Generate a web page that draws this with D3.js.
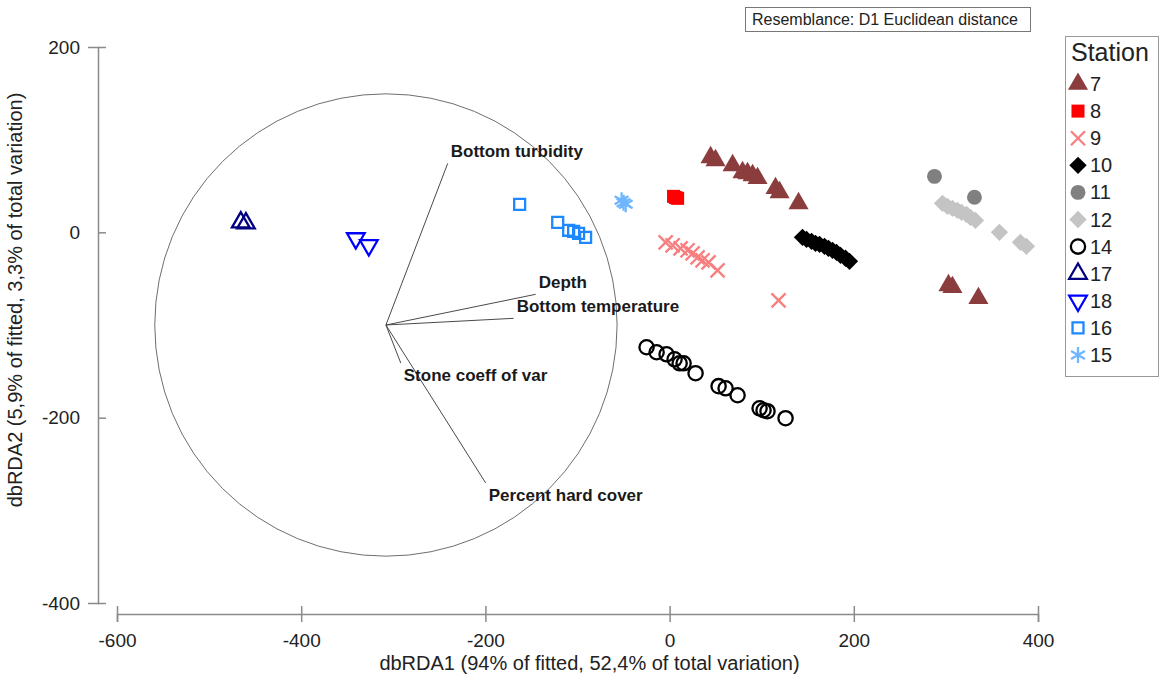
<!DOCTYPE html>
<html>
<head>
<meta charset="utf-8">
<script src="https://cdn.jsdelivr.net/npm/d3@7"></script>
<style>
  body { margin: 0; background: #fff; }
  svg { display: block; font-family: "Liberation Sans", Arial, sans-serif; }
</style>
</head>
<body>
<div id="chart"></div>
<script>
// station codes, in legend order
const stations = ['7', '8', '9', '10', '11', '12', '14', '17', '18', '16', '15'];

// dbRDA1 / dbRDA2 scores per station
const station7 = [[44.5, 80.9], [49.9, 77.7], [68.4, 72.3], [79.2, 64.7], [84.6, 63.6], [90.1, 61.5], [95.5, 58.3],
    [115, 47.5], [119.4, 43.1], [140, 31.3], [302.8, -57.2], [307.1, -59.3], [335.3, -71.2]];
const station8 = [[4.3, 38.8], [8.7, 36.7], [6.5, 37.5]];
const station9 = [[-4.3, -10.8], [3.3, -14], [11.9, -17.3], [19.5, -19.4], [25, -22.7], [30.4, -27], [35.8, -30.2],
    [42.3, -32.4], [52.1, -41], [118.3, -73.4]];
const station10 = [[144.3, -5.4], [148.7, -7.6], [154.1, -9.7], [158.4, -11.9], [162.8, -12.9], [168.2, -15.1],
    [172.5, -17.3], [176.9, -19.4], [181.2, -21.6], [185.6, -24.8], [191, -28], [195.3, -31.3]];
const station11 = [[287.6, 60.4], [331, 37.8]];
const station12 = [[296.3, 31.3], [301.7, 28], [307.1, 25.9], [312.5, 23.7], [316.9, 21.6], [322.3, 19.4],
    [326.6, 16.2], [332.1, 12.9], [358.1, 0], [380.9, -10.8], [387.4, -15.1]];
const station14 = [[-25, -124], [-14.1, -129.4], [-3.3, -131.6], [5.4, -137], [10.9, -141.3], [15.2, -141.3],
    [28.2, -152], [53.2, -166], [60.8, -168.3], [73.8, -175.8], [97.7, -189.9], [102, -192], [106.3, -193], [125.9, -200.6]];
const station17 = [[-465.6, 10.8], [-460, 9.7]];
const station18 = [[-340.7, -6.5], [-326.6, -14]];
const station16 = [[-162.8, 30.2], [-121.5, 10.8], [-109.6, 2.2], [-104.2, 1.1], [-98.8, -1.1], [-91.2, -5.4]];
const station15 = [[-52.1, 34.5], [-47.7, 30.2], [-50, 32]];

// predictor vectors (end points in dbRDA units)
const vecNames = ['Bottom turbidity', 'Depth', 'Bottom temperature', 'Stone coeff of var', 'Percent hard cover'];
const vecX = [-240.9, -145.4, -169.3, -291.9, -199.7];
const vecY = [74.4, -66.9, -92.8, -141, -270.5];
const vecOrigin = [-308, -100];
const vecRadius = 251;

const xTicks = [-600, -400, -200, 0, 200, 400];
const yTicks = [-400, -200, 0, 200];

const points = {
    '7': station7, '8': station8, '9': station9, '10': station10, '11': station11, '12': station12,
    '14': station14, '17': station17, '18': station18, '16': station16, '15': station15
};

// marker look per station
const styles = {
    '7':  {shape: d3.symbolTriangle, size: 175, fill: '#8b3d3d', stroke: 'none', rot: 0},
    '8':  {shape: d3.symbolSquare, size: 170, fill: '#ff0000', stroke: 'none', rot: 0},
    '9':  {shape: d3.symbolX, size: 130, fill: 'none', stroke: '#f77f7f', rot: 0},
    '10': {shape: d3.symbolSquare, size: 150, fill: '#000', stroke: 'none', rot: 45},
    '11': {shape: d3.symbolCircle, size: 175, fill: '#808080', stroke: 'none', rot: 0},
    '12': {shape: d3.symbolSquare, size: 150, fill: '#c4c4c4', stroke: 'none', rot: 45},
    '14': {shape: d3.symbolCircle, size: 160, fill: 'none', stroke: '#000', rot: 0},
    '17': {shape: d3.symbolTriangle, size: 135, fill: 'none', stroke: '#000080', rot: 0},
    '18': {shape: d3.symbolTriangle, size: 135, fill: 'none', stroke: '#0000ff', rot: 180},
    '16': {shape: d3.symbolSquare, size: 120, fill: 'none', stroke: '#1e88ff', rot: 0},
    '15': {shape: d3.symbolAsterisk, size: 180, fill: 'none', stroke: '#6fb6ff', rot: 0}
};

const W = 1161, H = 678;
const svg = d3.select('#chart').append('svg')
    .attr('width', W)
    .attr('height', H);

const x = d3.scaleLinear().domain([-600, 400]).range([117, 1038]);
const y = d3.scaleLinear().domain([-400, 200]).range([603, 47]);

const axisColor = '#8a8a8a';
const plainNum = d => String(d); // hyphen minus, as in the original

// x axis
const xAxis = svg.append('g')
    .attr('transform', 'translate(0,614)')
    .call(d3.axisBottom(x).tickValues(xTicks).tickFormat(plainNum).tickSizeOuter(0).tickSize(8).tickPadding(12));
xAxis.select('.domain').attr('stroke', axisColor).attr('stroke-width', 1.5);
xAxis.selectAll('.tick line').attr('stroke', axisColor).attr('stroke-width', 1.5).attr('y1', -8);
xAxis.selectAll('.tick text').attr('font-size', 19).attr('fill', '#222')
    .attr('font-family', '"Liberation Sans", Arial, sans-serif');

// y axis
const yAxis = svg.append('g')
    .attr('transform', 'translate(98,0)')
    .call(d3.axisLeft(y).tickValues(yTicks).tickFormat(plainNum).tickSizeOuter(0).tickSize(10).tickPadding(8));
yAxis.select('.domain').attr('stroke', axisColor).attr('stroke-width', 1.5);
yAxis.selectAll('.tick line').attr('stroke', axisColor).attr('stroke-width', 1.5).attr('x2', 8);
yAxis.selectAll('.tick text').attr('font-size', 19).attr('fill', '#222')
    .attr('font-family', '"Liberation Sans", Arial, sans-serif');

// axis titles
svg.append('text')
    .attr('x', (x(-600) + x(400)) / 2 + 12)
    .attr('y', 670)
    .attr('text-anchor', 'middle')
    .attr('font-size', 20)
    .attr('fill', '#222')
    .text('dbRDA1 (94% of fitted, 52,4% of total variation)');

svg.append('text')
    .attr('transform', 'translate(22,' + 300 + ') rotate(-90)')
    .attr('text-anchor', 'middle')
    .attr('font-size', 20)
    .attr('fill', '#222')
    .text('dbRDA2 (5,9% of fitted, 3,3% of total variation)');

// correlation circle
const ox = x(vecOrigin[0]), oy = y(vecOrigin[1]);
svg.append('circle')
    .attr('cx', ox)
    .attr('cy', oy)
    .attr('r', x(vecOrigin[0] + vecRadius) - ox)
    .attr('fill', 'none')
    .attr('stroke', '#6e6e6e')
    .attr('stroke-width', 1);

// vectors
const vecs = vecNames.map((n, i) => ({name: n, x: vecX[i], y: vecY[i]}));
const vg = svg.append('g');
vg.selectAll('line')
    .data(vecs)
    .enter().append('line')
    .attr('x1', ox).attr('y1', oy)
    .attr('x2', d => x(d.x)).attr('y2', d => y(d.y))
    .attr('stroke', '#4a4a4a')
    .attr('stroke-width', 1);
vg.selectAll('text')
    .data(vecs)
    .enter().append('text')
    .attr('x', d => x(d.x) + 3)
    .attr('y', d => y(d.y) + (d.y > vecOrigin[1] ? -6 : 18))
    .attr('font-size', 17)
    .attr('font-weight', 'bold')
    .attr('fill', '#1a1a1a')
    .text(d => d.name);

// points
function symbolPath(st) {
    return d3.symbol().type(styles[st].shape).size(styles[st].size)();
}
const pg = svg.append('g');
stations.forEach(st => {
    const s = styles[st];
    pg.append('g').attr('class', 'st-' + st)
        .selectAll('path')
        .data(points[st])
        .enter().append('path')
        .attr('d', symbolPath(st))
        .attr('transform', d => `translate(${x(d[0])},${y(d[1])}) rotate(${s.rot})`)
        .attr('fill', s.fill)
        .attr('stroke', s.stroke)
        .attr('stroke-width', s.stroke === 'none' ? 0 : 2.3);
});

// resemblance box
svg.append('rect')
    .attr('x', 745.5).attr('y', 7.5)
    .attr('width', 285).attr('height', 24)
    .attr('fill', '#fff')
    .attr('stroke', '#777');
svg.append('text')
    .attr('x', 752).attr('y', 25)
    .attr('font-size', 16)
    .attr('fill', '#222')
    .text('Resemblance: D1 Euclidean distance');

// legend
const lg = svg.append('g');
lg.append('rect')
    .attr('x', 1065.5).attr('y', 36.5)
    .attr('width', 93).attr('height', 340)
    .attr('fill', '#fff')
    .attr('stroke', '#999');
lg.append('text')
    .attr('x', 1071).attr('y', 61)
    .attr('font-size', 25)
    .attr('fill', '#222')
    .text('Station');
const rows = lg.selectAll('.row')
    .data(stations)
    .enter().append('g')
    .attr('class', 'row')
    .attr('transform', (d, i) => `translate(1078,${84 + i * 27.1})`);
rows.append('path')
    .attr('d', d => symbolPath(d))
    .attr('transform', d => `rotate(${styles[d].rot})`)
    .attr('fill', d => styles[d].fill)
    .attr('stroke', d => styles[d].stroke)
    .attr('stroke-width', d => styles[d].stroke === 'none' ? 0 : 2.3);
rows.append('text')
    .attr('x', 12)
    .attr('y', 7)
    .attr('font-size', 20)
    .attr('fill', '#222')
    .text(d => d);
</script>
</body>
</html>
